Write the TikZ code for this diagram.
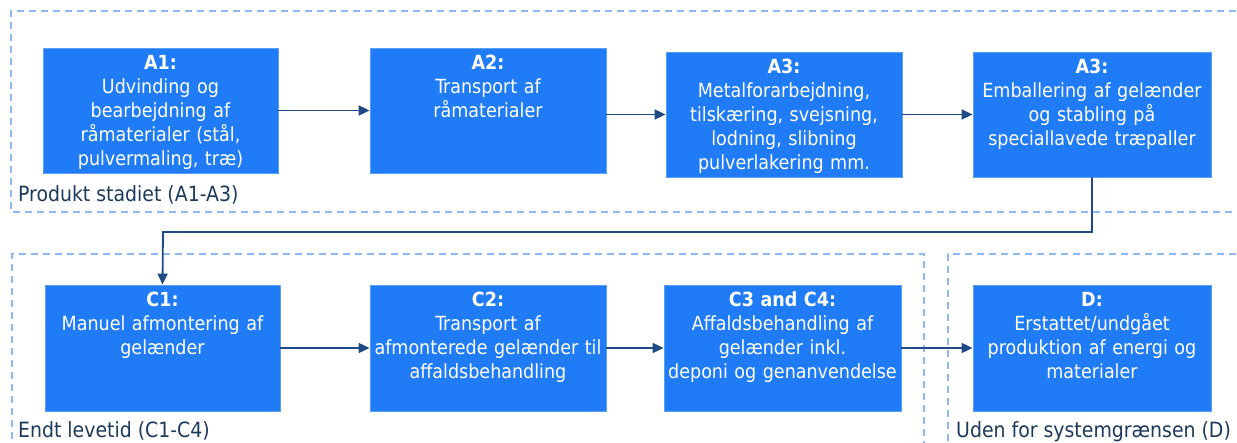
\documentclass[tikz,border=0pt]{standalone}
\usepackage{fontspec}
\setmainfont{DejaVu Sans Condensed}
\usetikzlibrary{arrows.meta}
\definecolor{boxblue}{HTML}{1F7CF6}
\definecolor{boxedge}{HTML}{5C9FF7}
\definecolor{connblue}{HTML}{1F4A86}
\definecolor{dashblue}{HTML}{8DB9F5}
\definecolor{labelnavy}{HTML}{1B3A5C}
\tikzset{
  stagebox/.style={draw=boxedge, line width=0.8pt, fill=boxblue, inner sep=0pt, rectangle},
  boxtext/.style={anchor=north, text=white, align=center, text width=236pt, inner xsep=0pt, inner ysep=7pt,
    font=\fontsize{19.5pt}{24pt}\selectfont},
  conn/.style={draw=connblue, line width=1.8pt, -{Triangle[length=11pt,width=10pt]}},
  boundary/.style={draw=dashblue, line width=1.8pt, dash pattern=on 7pt off 5pt},
  zonelabel/.style={anchor=base west, text=labelnavy, inner sep=0pt, font=\fontsize{21pt}{24pt}\selectfont}
}
\begin{document}
\begin{tikzpicture}[x=1pt,y=-1pt]
\clip (0,0) rectangle (1237,443);
% boundaries
\draw[boundary] (1260,11) -- (11,11) -- (11,212) -- (1260,212);
\draw[boundary] (924,460) -- (924,254) -- (12,254) -- (12,460);
\draw[boundary] (1260,254) -- (948,254) -- (948,460);
\node[zonelabel] (L1) at (18,202) {Produkt stadiet (A1-A3)};
\node[zonelabel] (L2) at (18,437) {Endt levetid (C1-C4)};
\node[zonelabel] (L3) at (956,437) {Uden for systemgrænsen (D)};
% boxes
\node[stagebox, minimum width=235pt, minimum height=125pt] (A1) at (160.5,110.5) {};
\node[stagebox, minimum width=236pt, minimum height=125pt] (A2) at (488,110.5) {};
\node[stagebox, minimum width=236pt, minimum height=125pt] (A3) at (784,114.5) {};
\node[stagebox, minimum width=238pt, minimum height=125pt] (A4) at (1092,114.5) {};
\node[stagebox, minimum width=235pt, minimum height=126pt] (C1) at (162.5,348) {};
\node[stagebox, minimum width=236pt, minimum height=126pt] (C2) at (488,348) {};
\node[stagebox, minimum width=237pt, minimum height=126pt] (C3) at (782.5,348) {};
\node[stagebox, minimum width=238pt, minimum height=126pt] (D) at (1092,348) {};
% texts
\node[boxtext] (A1t) at (A1.north) {\textbf{A1:}\\Udvinding og\\bearbejdning af\\råmaterialer (stål,\\pulvermaling, træ)};
\node[boxtext] (A2t) at (A2.north) {\textbf{A2:}\\Transport af\\råmaterialer};
\node[boxtext] (A3t) at (A3.north) {\textbf{A3:}\\Metalforarbejdning,\\tilskæring, svejsning,\\lodning, slibning\\pulverlakering mm.};
\node[boxtext] (A4t) at (A4.north) {\textbf{A3:}\\Emballering af gelænder\\og stabling på\\speciallavede træpaller};
\node[boxtext] (C1t) at (C1.north) {\textbf{C1:}\\Manuel afmontering af\\gelænder};
\node[boxtext] (C2t) at (C2.north) {\textbf{C2:}\\Transport af\\afmonterede gelænder til\\affaldsbehandling};
\node[boxtext] (C3t) at (C3.north) {\textbf{C3 and C4:}\\Affaldsbehandling af\\gelænder inkl.\\deponi og genanvendelse};
\node[boxtext] (Dt) at (D.north) {\textbf{D:}\\Erstattet/undgået\\produktion af energi og\\materialer};
% connectors
\coordinate (j) at (163,232);
\draw[conn] (A1.east) -- (A2.west);
\draw[conn] (A2.east |- A3.west) -- (A3.west);
\draw[conn] (A3.east) -- (A4.west);
\draw[conn] (A4.south) |- (j) -- (C1.north);
\draw[conn] (C1.east) -- (C2.west);
\draw[conn] (C2.east) -- (C3.west);
\draw[conn] (C3.east) -- (D.west);
\end{tikzpicture}
\end{document}
